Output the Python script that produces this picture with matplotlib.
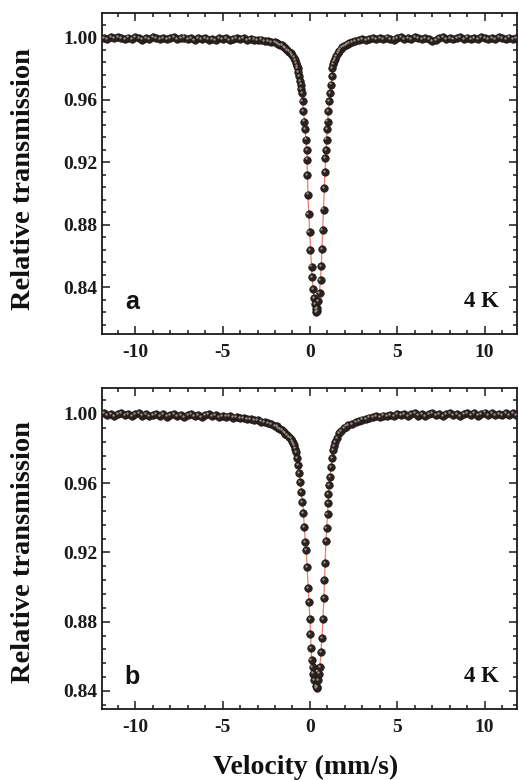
import matplotlib
matplotlib.use("Agg")
import matplotlib.pyplot as plt
from matplotlib.ticker import MultipleLocator, FormatStrFormatter
from matplotlib.transforms import offset_copy

plt.rcParams["axes.unicode_minus"] = False

# ---------------- data: panel a ----------------
vel_a = [-11.8, -11.6, -11.4, -11.2, -11.0, -10.8, -10.6, -10.4, -10.2, -10.0,
         -9.8, -9.6, -9.4, -9.2, -9.0, -8.8, -8.6, -8.4, -8.2, -8.0,
         -7.8, -7.6, -7.4, -7.2, -7.0, -6.8, -6.6, -6.4, -6.2, -6.0,
         -5.8, -5.6, -5.4, -5.2, -5.0, -4.8, -4.6, -4.4, -4.2, -4.0,
         -3.8, -3.6, -3.4, -3.2, -3.0, -2.8, -2.6, -2.4, -2.2, -2.0,
         -1.9, -1.8, -1.7, -1.6, -1.5, -1.4, -1.3, -1.2, -1.1, -1.0,
         -0.93, -0.86, -0.80, -0.75, -0.71, -0.66, -0.61, -0.57, -0.53, -0.49,
         -0.46, -0.42, -0.37, -0.33, -0.27, -0.23, -0.19, -0.17, -0.14, -0.11,
         -0.08, -0.02, 0.03, 0.09, 0.11, 0.19, 0.23, 0.29, 0.34, 0.37,
         0.40, 0.42, 0.49, 0.55, 0.61, 0.65, 0.68, 0.72, 0.78, 0.83,
         0.86, 0.88, 0.91, 0.95, 0.97, 1.01, 1.06, 1.10, 1.16, 1.22,
         1.26, 1.29, 1.34, 1.39, 1.45, 1.52, 1.60, 1.67, 1.75, 1.85,
         1.95, 2.05, 2.15, 2.25, 2.4, 2.6, 2.8, 3.0, 3.2, 3.4,
         3.6, 3.8, 4.0, 4.2, 4.4, 4.6, 4.8, 5.0, 5.2, 5.4,
         5.6, 5.8, 6.0, 6.2, 6.4, 6.6, 6.8, 7.0, 7.2, 7.4,
         7.6, 7.8, 8.0, 8.2, 8.4, 8.6, 8.8, 9.0, 9.2, 9.4,
         9.6, 9.8, 10.0, 10.2, 10.4, 10.6, 10.8, 11.0, 11.2, 11.4,
         11.6, 11.8]
trans_a = [0.9996, 0.9988, 0.9999, 0.9992, 1.0002, 0.9993, 0.9987, 0.9998, 0.9991, 1.0001,
           0.9995, 0.9985, 0.9997, 0.9990, 1.0000, 0.9992, 0.9986, 0.9997, 0.9989, 0.9994,
           0.9999, 0.9987, 0.9993, 0.9998, 0.9989, 0.9994, 0.9984, 0.9992, 0.9987, 0.9996,
           0.9985, 0.9991, 0.9983, 0.9994, 0.9988, 0.9995, 0.9984, 0.9991, 0.9996, 0.9987,
           0.9992, 0.9984, 0.9990, 0.9985, 0.9983, 0.9985, 0.9978, 0.9977, 0.9971, 0.9968,
           0.9962, 0.9958, 0.9950, 0.9947, 0.9937, 0.9928, 0.9917, 0.9908, 0.9896, 0.9887,
           0.9870, 0.9852, 0.9835, 0.9818, 0.9804, 0.9778, 0.9750, 0.9722, 0.9697, 0.9670,
           0.9644, 0.9590, 0.9526, 0.9460, 0.9410, 0.9345, 0.9280, 0.9217, 0.9115, 0.8993,
           0.8869, 0.8752, 0.8639, 0.8532, 0.8466, 0.8385, 0.8331, 0.8289, 0.8257, 0.8240,
           0.8248, 0.8267, 0.8310, 0.8364, 0.8445, 0.8534, 0.8645, 0.8765, 0.8897, 0.9032,
           0.9138, 0.9228, 0.9280, 0.9345, 0.9410, 0.9460, 0.9526, 0.9590, 0.9644, 0.9697,
           0.9750, 0.9804, 0.9826, 0.9846, 0.9862, 0.9880, 0.9896, 0.9910, 0.9922, 0.9935,
           0.9943, 0.9951, 0.9957, 0.9964, 0.9969, 0.9976, 0.9981, 0.9986, 0.9984, 0.9990,
           0.9994, 0.9987, 0.9996, 0.9989, 0.9998, 0.9990, 0.9985, 0.9995, 0.9999, 0.9988,
           0.9996, 0.9990, 1.0000, 0.9992, 0.9986, 0.9997, 0.9989, 0.9975, 0.9984, 0.9992,
           0.9999, 0.9990, 0.9997, 0.9988, 0.9995, 1.0000, 0.9991, 0.9998, 0.9989, 0.9996,
           0.9990, 0.9999, 0.9993, 0.9988, 0.9997, 0.9991, 0.9999, 0.9994, 0.9989, 0.9998,
           0.9991, 0.9996]
fit_vel_a = [-11.9, -4.0, -3.0, -2.5, -2.0, -1.6, -1.2, -1.0, -0.8, -0.7,
             -0.6, -0.5, -0.4, -0.3, -0.2, -0.15, -0.1, 0.0, 0.1, 0.2,
             0.3, 0.38, 0.45, 0.55, 0.65, 0.75, 0.85, 0.95, 1.05, 1.15,
             1.25, 1.35, 1.5, 1.7, 2.0, 2.5, 3.0, 4.0, 11.9]
fit_a = [0.9993, 0.9990, 0.9984, 0.9978, 0.9968, 0.9948, 0.9908, 0.9886, 0.9836, 0.9800,
         0.9745, 0.9682, 0.9570, 0.9440, 0.9290, 0.9150, 0.8950, 0.8725, 0.8500, 0.8370,
         0.8280, 0.8245, 0.8262, 0.8364, 0.8534, 0.8830, 0.9110, 0.9345, 0.9515, 0.9640,
         0.9745, 0.9830, 0.9876, 0.9912, 0.9948, 0.9972, 0.9985, 0.9991, 0.9993]

# ---------------- data: panel b ----------------
vel_b = [-11.8, -11.6, -11.4, -11.2, -11.0, -10.8, -10.6, -10.4, -10.2, -10.0,
         -9.8, -9.6, -9.4, -9.2, -9.0, -8.8, -8.6, -8.4, -8.2, -8.0,
         -7.8, -7.6, -7.4, -7.2, -7.0, -6.8, -6.6, -6.4, -6.2, -6.0,
         -5.8, -5.6, -5.4, -5.2, -5.0, -4.8, -4.6, -4.4, -4.2, -4.0,
         -3.8, -3.6, -3.4, -3.2, -3.0, -2.8, -2.6, -2.4, -2.2, -2.0,
         -1.9, -1.8, -1.7, -1.6, -1.5, -1.4, -1.3, -1.2, -1.1, -1.0,
         -0.95, -0.90, -0.85, -0.80, -0.74, -0.69, -0.61, -0.55, -0.50, -0.44,
         -0.38, -0.33, -0.27, -0.23, -0.14, -0.10, -0.04, 0.00, 0.02, 0.06,
         0.09, 0.15, 0.19, 0.25, 0.34, 0.38, 0.41, 0.47, 0.53, 0.57,
         0.63, 0.69, 0.74, 0.80, 0.83, 0.87, 0.91, 0.95, 1.01, 1.03,
         1.06, 1.10, 1.16, 1.20, 1.26, 1.33, 1.39, 1.45, 1.55, 1.67,
         1.8, 1.95, 2.06, 2.2, 2.4, 2.63, 2.8, 3.0, 3.2, 3.39,
         3.6, 3.8, 4.0, 4.2, 4.4, 4.6, 4.8, 5.0, 5.2, 5.4,
         5.6, 5.8, 6.0, 6.2, 6.4, 6.6, 6.8, 7.0, 7.2, 7.4,
         7.6, 7.8, 8.0, 8.2, 8.4, 8.6, 8.8, 9.0, 9.2, 9.4,
         9.6, 9.8, 10.0, 10.2, 10.4, 10.6, 10.8, 11.0, 11.2, 11.4,
         11.6, 11.8]
trans_b = [1.0004, 0.9993, 1.0002, 0.9989, 0.9998, 1.0005, 0.9992, 0.9999, 0.9988, 0.9997,
           1.0003, 0.9991, 0.9998, 0.9987, 0.9996, 1.0002, 0.9990, 0.9997, 0.9985, 0.9995,
           1.0001, 0.9989, 0.9996, 0.9984, 0.9994, 1.0000, 0.9988, 0.9994, 0.9983, 0.9993,
           0.9998, 0.9986, 0.9992, 0.9982, 0.9990, 0.9985, 0.9988, 0.9979, 0.9983, 0.9976,
           0.9978, 0.9970, 0.9972, 0.9963, 0.9964, 0.9956, 0.9955, 0.9946, 0.9942, 0.9932,
           0.9928, 0.9919, 0.9914, 0.9905, 0.9898, 0.9887, 0.9880, 0.9867, 0.9858, 0.9842,
           0.9832, 0.9820, 0.9800, 0.9782, 0.9744, 0.9705, 0.9657, 0.9605, 0.9551, 0.9493,
           0.9426, 0.9349, 0.9262, 0.9214, 0.9118, 0.8993, 0.8915, 0.8813, 0.8727, 0.8650,
           0.8578, 0.8539, 0.8501, 0.8462, 0.8430, 0.8418, 0.8425, 0.8462, 0.8501, 0.8539,
           0.8626, 0.8707, 0.8815, 0.8935, 0.9040, 0.9140, 0.9265, 0.9339, 0.9422, 0.9484,
           0.9536, 0.9590, 0.9638, 0.9695, 0.9744, 0.9792, 0.9815, 0.9840, 0.9862, 0.9888,
           0.9902, 0.9918, 0.9927, 0.9934, 0.9944, 0.9955, 0.9960, 0.9968, 0.9972, 0.9979,
           0.9980, 0.9986, 0.9984, 0.9991, 0.9989, 0.9994, 0.9990, 0.9999, 0.9992, 1.0002,
           0.9988, 0.9997, 1.0004, 0.9991, 1.0000, 0.9987, 0.9998, 1.0005, 0.9992, 1.0001,
           0.9989, 0.9999, 1.0006, 0.9993, 1.0002, 0.9990, 1.0000, 1.0007, 0.9994, 1.0003,
           0.9991, 1.0001, 1.0008, 0.9995, 1.0004, 0.9992, 1.0002, 0.9994, 1.0005, 0.9993,
           1.0003, 0.9996]
fit_vel_b = [-11.9, -5.0, -4.0, -3.0, -2.0, -1.5, -1.0, -0.8, -0.6, -0.4,
             -0.3, -0.2, -0.1, 0.0, 0.1, 0.2, 0.3, 0.4, 0.5, 0.6,
             0.7, 0.8, 0.9, 1.0, 1.1, 1.2, 1.35, 1.5, 1.7, 2.0,
             2.5, 3.0, 4.0, 5.0, 11.9]
fit_b = [0.9995, 0.9990, 0.9978, 0.9962, 0.9932, 0.9897, 0.9843, 0.9780, 0.9650, 0.9470,
         0.9310, 0.9190, 0.8990, 0.8813, 0.8570, 0.8495, 0.8445, 0.8420, 0.8480, 0.8580,
         0.8730, 0.8935, 0.9230, 0.9410, 0.9590, 0.9695, 0.9800, 0.9850, 0.9890, 0.9924,
         0.9950, 0.9968, 0.9986, 0.9996, 0.9998]

x_ticks = [-10, -5, 0, 5, 10]
y_ticks = [0.84, 0.88, 0.92, 0.96, 1.00]
panel_letters = ["a", "b"]
temp_label = "4 K"
ylabel = "Relative transmission"
xlabel = "Velocity (mm/s)"

# ---------------- figure ----------------
W, H = 519, 780
fig = plt.figure(figsize=(W / 100, H / 100), dpi=100)
fig.patch.set_facecolor("white")

serif = ["Liberation Serif", "DejaVu Serif"]
sans = ["Liberation Sans", "DejaVu Sans"]

def fx(px):
    return px / W

def fy(py):
    return 1 - py / H

left, right = 102, 517
axA = fig.add_axes([fx(left), fy(334), fx(right) - fx(left), fy(13) - fy(334)])
axB = fig.add_axes([fx(left), fy(709), fx(right) - fx(left), fy(388) - fy(709)])

panels = [
    (axA, vel_a, trans_a, fit_vel_a, fit_a, (0.8100, 1.0155)),
    (axB, vel_b, trans_b, fit_vel_b, fit_b, (0.8296, 1.0150)),
]

for i, (ax, v, t, fv, ft, ylim) in enumerate(panels):
    ax.set_facecolor("white")
    ax.plot(fv, ft, color="#e8806e", lw=0.9, zorder=2)
    ax.plot(v, t, ls="none", marker="o", ms=5.4, mfc="#2c2321", mec="#1c1514",
            mew=0.5, zorder=3)
    hl = offset_copy(ax.transData, fig=fig, x=-0.8, y=0.8, units="points")
    ax.plot(v, t, ls="none", marker="o", ms=1.7, mfc="#9c918c", mec="none",
            transform=hl, zorder=4)
    ax.set_xlim(-11.9, 11.85)
    ax.set_ylim(*ylim)
    ax.set_xticks(x_ticks)
    ax.set_yticks(y_ticks)
    ax.xaxis.set_minor_locator(MultipleLocator(1))
    ax.yaxis.set_minor_locator(MultipleLocator(0.008))
    ax.yaxis.set_major_formatter(FormatStrFormatter("%.2f"))
    ax.tick_params(which="both", direction="in", top=True, right=True,
                   width=1.1, colors="#1a1a1a")
    ax.tick_params(which="major", length=6)
    ax.tick_params(which="minor", length=3)
    ax.tick_params(axis="x", which="major", pad=7)
    ax.tick_params(axis="y", which="major", pad=3.5)
    for lab in ax.get_xticklabels() + ax.get_yticklabels():
        lab.set_fontfamily(serif)
        lab.set_fontweight("bold")
        lab.set_fontsize(14)
        lab.set_color("#1a1a1a")
    for sp in ax.spines.values():
        sp.set_linewidth(1.3)
        sp.set_color("#1a1a1a")
    ax.text(0.073, 0.10, panel_letters[i], transform=ax.transAxes,
            family=sans, fontweight="bold", fontsize=18, ha="center", va="center",
            color="#111111")
    ax.text(0.915, 0.10, temp_label, transform=ax.transAxes,
            family=serif, fontweight="bold", fontsize=16.5, ha="center", va="center",
            color="#111111")

fig.text(fx(24), fy(179), ylabel, rotation=90, ha="center", va="center",
         family=serif, fontweight="bold", fontsize=20.5, color="#111111")
fig.text(fx(24), fy(552), ylabel, rotation=90, ha="center", va="center",
         family=serif, fontweight="bold", fontsize=20.5, color="#111111")
fig.text(fx(306), fy(767), xlabel, ha="center", va="center",
         family=serif, fontweight="bold", fontsize=20, color="#111111")

fig.savefig("out.png", dpi=100, facecolor="white")
